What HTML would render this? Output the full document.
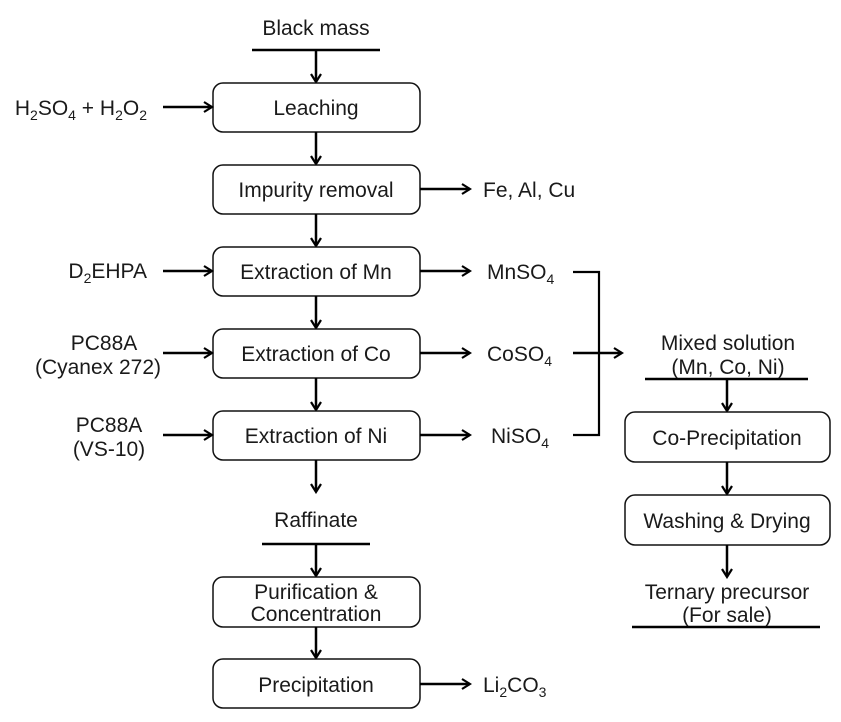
<!DOCTYPE html>
<html><head><meta charset="utf-8"><style>
html,body{margin:0;padding:0;background:#fff;}
svg{display:block;}
text{font-family:"Liberation Sans",Arial,sans-serif;font-size:21px;fill:#1a1a1a;}
.c{text-anchor:middle;}
.r{text-anchor:end;}
.b{fill:#fff;stroke:#111;stroke-width:1.5;}
.l{stroke:#000;stroke-width:2.5;fill:none;}
.h{fill:none;stroke:#000;stroke-width:2.2;}
</style></head><body>
<svg width="841" height="722" viewBox="0 0 841 722" xmlns="http://www.w3.org/2000/svg">
<defs>
<marker id="a" markerWidth="12" markerHeight="12" refX="10" refY="6" orient="auto" markerUnits="userSpaceOnUse">
<path d="M2,1 L10,6 L2,11" fill="none" stroke="#000" stroke-width="2.2"/>
</marker>
</defs>
<text x="316" y="35" class="c">Black mass</text>
<line x1="252" y1="50" x2="380" y2="50" class="l"/>
<line x1="316" y1="50" x2="316" y2="82" class="l" marker-end="url(#a)"/>
<rect x="213" y="83" width="207" height="49" rx="10" class="b"/>
<text x="316" y="115" class="c">Leaching</text>
<line x1="316" y1="132" x2="316" y2="164" class="l" marker-end="url(#a)"/>
<rect x="213" y="165" width="207" height="49" rx="10" class="b"/>
<text x="316" y="197" class="c">Impurity  removal</text>
<line x1="316" y1="214" x2="316" y2="246" class="l" marker-end="url(#a)"/>
<rect x="213" y="247" width="207" height="49" rx="10" class="b"/>
<text x="316" y="279" class="c">Extraction of Mn</text>
<line x1="316" y1="296" x2="316" y2="328" class="l" marker-end="url(#a)"/>
<rect x="213" y="329" width="207" height="49" rx="10" class="b"/>
<text x="316" y="361" class="c">Extraction of Co</text>
<line x1="316" y1="378" x2="316" y2="410" class="l" marker-end="url(#a)"/>
<rect x="213" y="411" width="207" height="49" rx="10" class="b"/>
<text x="316" y="443" class="c">Extraction of Ni</text>
<line x1="316" y1="460" x2="316" y2="492" class="l" marker-end="url(#a)"/>
<text x="316" y="527" class="c">Raffinate</text>
<line x1="262" y1="544" x2="370" y2="544" class="l"/>
<line x1="316" y1="544" x2="316" y2="576" class="l" marker-end="url(#a)"/>
<rect x="213" y="577" width="207" height="50" rx="10" class="b"/>
<text x="316" y="599" class="c">Purification &amp;</text>
<text x="316" y="621" class="c">Concentration</text>
<line x1="316" y1="627" x2="316" y2="658" class="l" marker-end="url(#a)"/>
<rect x="213" y="659" width="207" height="49" rx="10" class="b"/>
<text x="316" y="692" class="c">Precipitation</text>
<text x="147" y="115" class="r">H<tspan font-size="14" dy="5">2</tspan><tspan dy="-5">SO</tspan><tspan font-size="14" dy="5">4</tspan><tspan dy="-5"> + H</tspan><tspan font-size="14" dy="5">2</tspan><tspan dy="-5">O</tspan><tspan font-size="14" dy="5">2</tspan></text>
<line x1="163" y1="107" x2="212" y2="107" class="l" marker-end="url(#a)"/>
<text x="147" y="278" class="r">D<tspan font-size="14" dy="5">2</tspan><tspan dy="-5">EHPA</tspan></text>
<line x1="163" y1="271" x2="212" y2="271" class="l" marker-end="url(#a)"/>
<text x="104" y="350" class="c">PC88A</text>
<text x="98" y="374" class="c">(Cyanex 272)</text>
<line x1="163" y1="353" x2="212" y2="353" class="l" marker-end="url(#a)"/>
<text x="109" y="432" class="c">PC88A</text>
<text x="109" y="456" class="c">(VS-10)</text>
<line x1="163" y1="435" x2="212" y2="435" class="l" marker-end="url(#a)"/>
<line x1="420" y1="189" x2="470" y2="189" class="l" marker-end="url(#a)"/>
<text x="483" y="197">Fe, Al, Cu</text>
<line x1="420" y1="271" x2="470" y2="271" class="l" marker-end="url(#a)"/>
<text x="487" y="279">MnSO<tspan font-size="14" dy="5">4</tspan></text>
<line x1="420" y1="353" x2="470" y2="353" class="l" marker-end="url(#a)"/>
<text x="487" y="361">CoSO<tspan font-size="14" dy="5">4</tspan></text>
<line x1="420" y1="435" x2="470" y2="435" class="l" marker-end="url(#a)"/>
<text x="491" y="443">NiSO<tspan font-size="14" dy="5">4</tspan></text>
<line x1="420" y1="684" x2="470" y2="684" class="l" marker-end="url(#a)"/>
<text x="483" y="692">Li<tspan font-size="14" dy="5">2</tspan><tspan dy="-5">CO</tspan><tspan font-size="14" dy="5">3</tspan></text>
<path d="M573,272 H599 V435 H573" class="h"/>
<line x1="573" y1="353" x2="622" y2="353" class="l" marker-end="url(#a)"/>
<text x="728" y="350" class="c">Mixed solution</text>
<text x="728" y="374" class="c">(Mn, Co, Ni)</text>
<line x1="645" y1="379" x2="808" y2="379" class="l"/>
<line x1="727" y1="379" x2="727" y2="411" class="l" marker-end="url(#a)"/>
<rect x="625" y="412" width="205" height="50" rx="10" class="b"/>
<text x="727" y="445" class="c">Co-Precipitation</text>
<line x1="727" y1="462" x2="727" y2="494" class="l" marker-end="url(#a)"/>
<rect x="625" y="495" width="205" height="50" rx="10" class="b"/>
<text x="727" y="528" class="c">Washing &amp; Drying</text>
<line x1="727" y1="545" x2="727" y2="577" class="l" marker-end="url(#a)"/>
<text x="727" y="599" class="c">Ternary  precursor</text>
<text x="727" y="622" class="c">(For sale)</text>
<line x1="632" y1="627" x2="820" y2="627" class="l"/>
</svg>
</body></html>
